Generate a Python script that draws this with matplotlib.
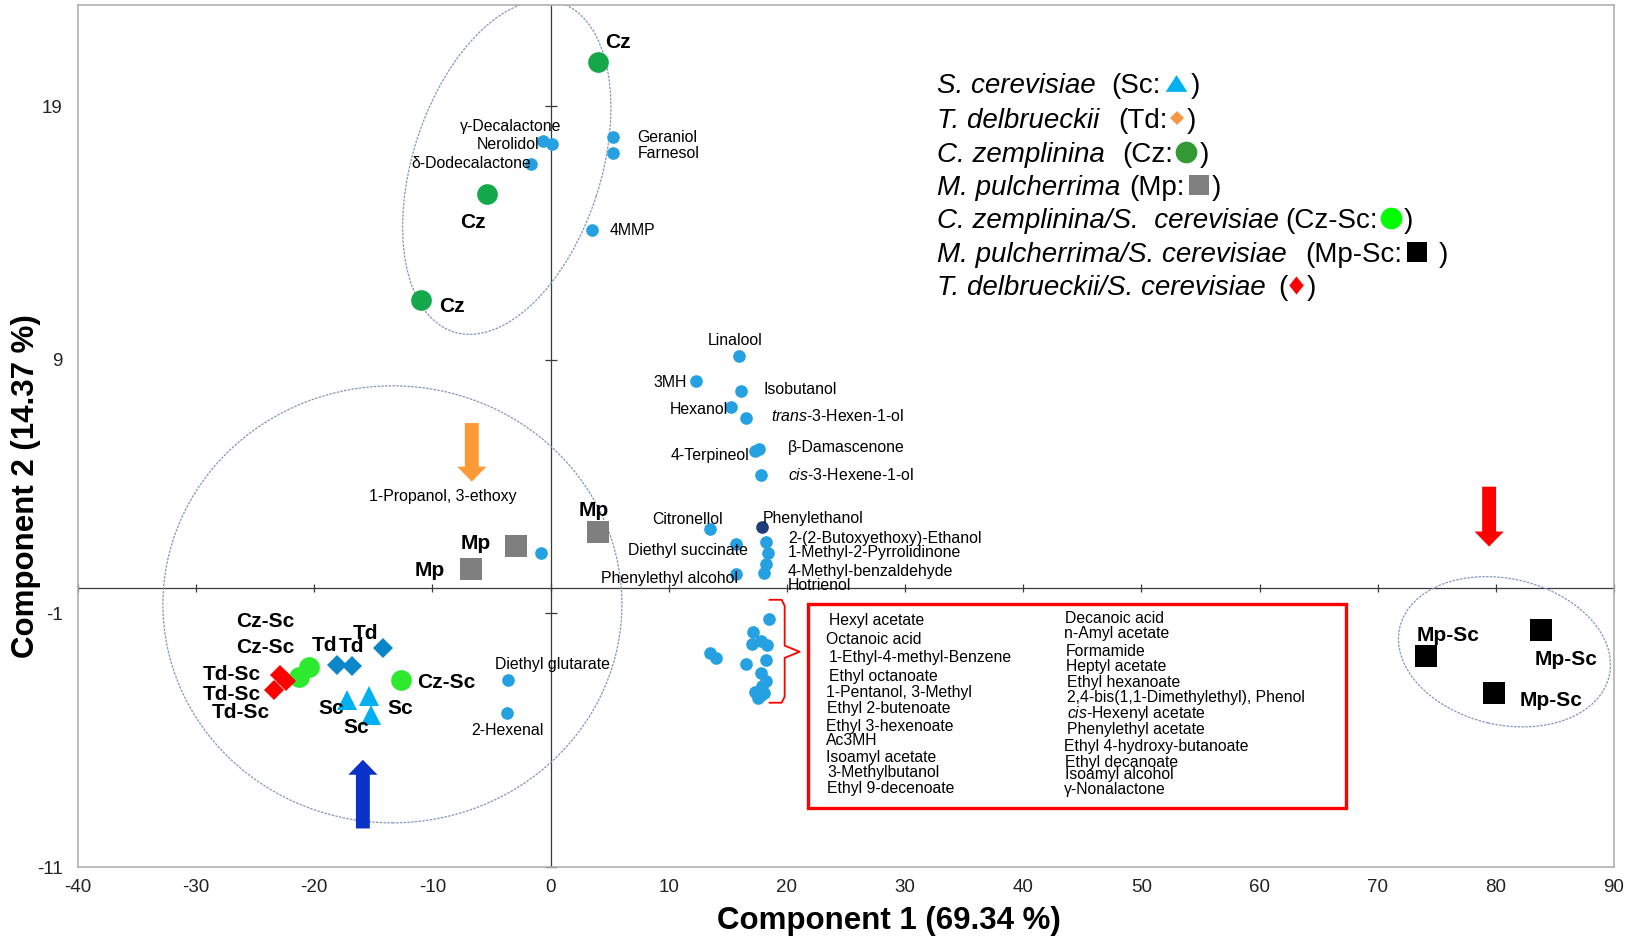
import numpy as np
import matplotlib
matplotlib.use("Agg")
import matplotlib.pyplot as plt
from matplotlib.patches import Ellipse, Rectangle, FancyArrowPatch, ArrowStyle
from matplotlib.lines import Line2D
import matplotlib.transforms as mtransforms

plt.rcParams['font.family'] = ['Liberation Sans', 'DejaVu Sans']
plt.rcParams['axes.unicode_minus'] = False
plt.rcParams['mathtext.fontset'] = 'custom'
plt.rcParams['mathtext.rm'] = 'Liberation Sans'
plt.rcParams['mathtext.it'] = 'Liberation Sans:italic'

# ---------------- data ----------------
x_ticks = [-40, -30, -20, -10, 0, 10, 20, 30, 40, 50, 60, 70, 80, 90]
y_ticks = [-11, -1, 9, 19]
x_title = "Component 1 (69.34 %)"
y_title = "Component 2 (14.37 %)"

# samples
cz_x = [4.02, -5.37, -11.0]
cz_y = [20.75, 15.54, 11.36]
mp_x = [3.97, -2.89, -6.78]
mp_y = [2.23, 1.68, 0.77]
td_x = [-18.12, -16.85, -14.17]
td_y = [-3.05, -3.09, -2.36]
sc_x = [-17.27, -15.36, -15.21]
sc_y = [-4.40, -4.27, -4.99]
czsc_x = [-20.46, -21.28, -12.70]
czsc_y = [-3.11, -3.51, -3.64]
tdsc_x = [-22.91, -22.40, -23.39]
tdsc_y = [-3.42, -3.68, -4.03]
mpsc_x = [83.8, 74.07, 79.82]
mpsc_y = [-1.67, -2.69, -4.15]

# labelled compounds (loadings)
compound_names = ["γ-Decalactone", "Nerolidol", "δ-Dodecalactone", "Geraniol", "Farnesol", "4MMP",
                  "Linalool", "3MH", "Isobutanol", "Hexanol", "$\\it{trans}$-3-Hexen-1-ol",
                  "4-Terpineol", "β-Damascenone", "$\\it{cis}$-3-Hexene-1-ol", "Citronellol",
                  "Diethyl succinate", "2-(2-Butoxyethoxy)-Ethanol", "1-Methyl-2-Pyrrolidinone",
                  "4-Methyl-benzaldehyde", "Hotrienol", "Phenylethyl alcohol",
                  "1-Propanol, 3-ethoxy", "Diethyl glutarate", "2-Hexenal"]
compound_x = [-0.66, 0.13, -1.67, 5.26, 5.29, 3.51,
              15.96, 12.29, 16.10, 15.26, 16.52,
              17.29, 17.65, 17.79, 13.48,
              15.73, 18.21, 18.41,
              18.21, 18.07, 15.68,
              -0.83, -3.57, -3.65]
compound_y = [17.65, 17.52, 16.72, 17.78, 17.16, 14.14,
              9.15, 8.17, 7.79, 7.13, 6.72,
              5.41, 5.48, 4.45, 2.32,
              1.75, 1.80, 1.38,
              0.96, 0.59, 0.57,
              1.38, -3.61, -4.93]
phenylethanol_x = [17.90]
phenylethanol_y = [2.43]

# compounds grouped in the red box
cluster_x = [18.46, 17.13, 17.08, 17.84, 18.32, 13.53, 13.98, 16.51,
             18.21, 17.84, 18.21, 17.93, 17.28, 18.04, 17.56, 17.84]
cluster_y = [-1.21, -1.73, -2.21, -2.10, -2.26, -2.56, -2.76, -2.99,
             -2.83, -3.35, -3.68, -3.88, -4.10, -4.14, -4.33, -4.20]
box_left_names = ["Hexyl acetate", "Octanoic acid", "1-Ethyl-4-methyl-Benzene", "Ethyl octanoate",
                  "1-Pentanol, 3-Methyl", "Ethyl 2-butenoate", "Ethyl 3-hexenoate", "Ac3MH",
                  "Isoamyl acetate", "3-Methylbutanol", "Ethyl 9-decenoate"]
box_right_names = ["Decanoic acid", "n-Amyl acetate", "Formamide", "Heptyl acetate",
                   "Ethyl hexanoate", "2,4-bis(1,1-Dimethylethyl), Phenol",
                   "$\\it{cis}$-Hexenyl acetate", "Phenylethyl acetate",
                   "Ethyl 4-hydroxy-butanoate", "Ethyl decanoate", "Isoamyl alcohol", "γ-Nonalactone"]

# ---------------- layout ----------------
W, H = 1631, 939
fig = plt.figure(figsize=(W / 100, H / 100), dpi=100)
ax = fig.add_axes([78 / W, 1 - 867 / H, (1614 - 78) / W, (867 - 5) / H])
ax.set_xlim(-40, 90)
ax.set_ylim(-11, 23)
for s in ax.spines.values():
    s.set_color('#b0b0b0')
    s.set_linewidth(1.2)

ax.set_xticks(x_ticks)
ax.set_xticklabels([str(v) for v in x_ticks])
ax.set_yticks(y_ticks)
ax.set_yticklabels([str(v) for v in y_ticks])
ax.tick_params(axis='both', length=0, labelsize=13.5, colors='#222222')
ax.tick_params(axis='x', pad=9)
ax.tick_params(axis='y', pad=11)

axis_col = '#3a3a3a'
ax.axhline(0, color=axis_col, lw=0.9, zorder=1)
ax.axvline(0, color=axis_col, lw=0.9, zorder=1)
ax.plot(x_ticks, [0] * len(x_ticks), ls='none', marker='|', ms=6, mew=0.9, color=axis_col, zorder=1, clip_on=False)
ax.plot([0] * len(y_ticks), y_ticks, ls='none', marker='_', ms=8, mew=0.9, color=axis_col, zorder=1, clip_on=False)

fig.text(889 / W, 1 - 921 / H, x_title, fontsize=22.5, fontweight='bold', ha='center', va='center')
fig.text(26 / W, 1 - 486 / H, y_title, fontsize=22.5, fontweight='bold', ha='center', va='center', rotation=90)

# ellipses (center in data units, size in pixels)
ell_col = '#8397bb'
def add_ellipse(cx, cy, w_px, h_px, ang):
    tr = fig.dpi_scale_trans + mtransforms.ScaledTranslation(cx, cy, ax.transData)
    e = Ellipse((0, 0), w_px / 100, h_px / 100, angle=ang, transform=tr, fill=False,
                ec=ell_col, lw=0.9, ls=(0, (2, 1)), zorder=2)
    ax.add_patch(e)

add_ellipse(-3.71, 16.60, 346, 188, 72)
add_ellipse(-13.39, -0.64, 459, 437, 0)
add_ellipse(80.73, -2.51, 215, 146, -13)

# arrows
def add_arrow(x, y0, y1, color):
    st = ArrowStyle.Simple(head_length=10.8, head_width=21, tail_width=10)
    a = FancyArrowPatch((x, y0), (x, y1), arrowstyle=st, mutation_scale=1, color=color,
                        shrinkA=0, shrinkB=0, lw=0, zorder=3)
    ax.add_patch(a)

add_arrow(-6.67, 6.51, 4.20, '#fd9a35')
add_arrow(-15.89, -9.48, -6.77, '#0a32c8')
add_arrow(79.43, 4.00, 1.64, '#ff0000')

# compound points
comp_col = '#25a1e2'
ax.plot(compound_x, compound_y, ls='none', marker='o', ms=9.1, color=comp_col, mew=0, zorder=3)
ax.plot(cluster_x, cluster_y, ls='none', marker='o', ms=9.1, color=comp_col, mew=0, zorder=3)
ax.plot(phenylethanol_x, phenylethanol_y, ls='none', marker='o', ms=9.1, color='#1f3d78', mew=0, zorder=3)

comp_label_pos = [(0.92, 18.19, 'right'), (-0.91, 17.49, 'right'), (-1.62, 16.75, 'right'),
                  (7.35, 17.77, 'left'), (7.35, 17.14, 'left'), (5.01, 14.12, 'left'),
                  (15.63, 9.78, 'center'), (11.5, 8.12, 'right'), (17.98, 7.85, 'left'),
                  (15.02, 7.06, 'right'), (18.69, 6.80, 'left'),
                  (16.85, 5.25, 'right'), (20.09, 5.54, 'left'), (20.09, 4.46, 'left'),
                  (14.59, 2.72, 'right'),
                  (16.66, 1.47, 'right'), (20.09, 1.97, 'left'), (20.09, 1.42, 'left'),
                  (20.09, 0.65, 'left'), (20.09, 0.10, 'left'), (15.86, 0.39, 'right'),
                  (-9.15, 3.61, 'center'), (-4.72, -3.02, 'left'), (-3.66, -5.61, 'center')]
for name, (lx, ly, ha) in zip(compound_names, comp_label_pos):
    ax.text(lx, ly, name, fontsize=11.4, ha=ha, va='center', zorder=5)
ax.text(17.93, 2.73, "Phenylethanol", fontsize=11.4, ha='left', va='center', zorder=5)

# red box with brace
ax.add_patch(Rectangle((21.76, -8.66), 45.6, 8.04, fill=False, ec='#ff0000', lw=2.4, zorder=4))
ax.plot([18.53, 19.55, 19.81, 19.81, 21.08, 19.81, 19.81, 19.55, 18.53],
        [-0.46, -0.46, -0.70, -2.27, -2.51, -2.75, -4.28, -4.52, -4.52],
        color='#ff0000', lw=1.3, zorder=4)
left_pos = [(23.55, -1.28), (23.32, -2.01), (23.55, -2.73), (23.55, -3.48), (23.32, -4.11),
            (23.39, -4.76), (23.32, -5.45), (23.32, -6.00), (23.32, -6.70), (23.39, -7.27), (23.39, -7.92)]
right_pos = [(43.56, -1.18), (43.47, -1.80), (43.63, -2.50), (43.66, -3.11), (43.72, -3.74),
             (43.72, -4.33), (43.72, -4.95), (43.72, -5.56), (43.47, -6.24), (43.56, -6.86),
             (43.56, -7.36), (43.47, -7.95)]
for name, (lx, ly) in zip(box_left_names, left_pos):
    ax.text(lx, ly, name, fontsize=11.3, ha='left', va='center', zorder=5)
for name, (lx, ly) in zip(box_right_names, right_pos):
    ax.text(lx, ly, name, fontsize=11.3, ha='left', va='center', zorder=5)

# sample points
ax.plot(cz_x, cz_y, ls='none', marker='o', ms=14.9, color='#14a84a', mew=0, zorder=4)
ax.plot(mp_x, mp_y, ls='none', marker='s', ms=15.6, color='#7f7f7f', mew=0, zorder=4)
ax.plot(td_x, td_y, ls='none', marker='D', ms=10.2, color='#0b86c8', mew=0, zorder=4)
ax.plot(sc_x, sc_y, ls='none', marker='^', ms=13.7, color='#00b0f0', mew=0, zorder=4)
ax.plot(czsc_x, czsc_y, ls='none', marker='o', ms=14.9, color='#2eea2e', mew=0, zorder=4)
ax.plot(tdsc_x, tdsc_y, ls='none', marker='D', ms=10.2, color='#ff0000', mew=0, zorder=4)
ax.plot(mpsc_x, mpsc_y, ls='none', marker='s', ms=15.6, color='#000000', mew=0, zorder=4)

sample_labels = [("Cz", 5.71, 21.54), ("Cz", -6.56, 14.41), ("Cz", -8.38, 11.12),
                 ("Mp", 3.68, 3.06), ("Mp", -6.33, 1.77), ("Mp", -10.22, 0.68),
                 ("Cz-Sc", -24.18, -1.32), ("Cz-Sc", -24.18, -2.34), ("Cz-Sc", -8.87, -3.72),
                 ("Td-Sc", -27.0, -3.42), ("Td-Sc", -27.0, -4.18), ("Td-Sc", -26.24, -4.90),
                 ("Td", -19.10, -2.27), ("Td", -16.85, -2.30), ("Td", -15.63, -1.80),
                 ("Sc", -18.6, -4.73), ("Sc", -12.76, -4.73), ("Sc", -16.42, -5.48),
                 ("Mp-Sc", 75.93, -1.88), ("Mp-Sc", 85.95, -2.80), ("Mp-Sc", 84.68, -4.43)]
for s, lx, ly in sample_labels:
    ax.text(lx, ly, s, fontsize=15, fontweight='bold', ha='center', va='center', zorder=6)

# legend block (text pieces + marker symbols)
legend_rows = [
    [("S. cerevisiae", 937.3, 'italic'), ("(Sc:", 1111.7, 'normal'), (")", 1190.7, 'normal')],
    [("T. delbrueckii", 937.3, 'italic'), ("(Td:", 1118.3, 'normal'), (")", 1186.7, 'normal')],
    [("C. zemplinina", 937.3, 'italic'), ("(Cz:", 1122.3, 'normal'), (")", 1200.0, 'normal')],
    [("M. pulcherrima", 937.3, 'italic'), ("(Mp:", 1129.0, 'normal'), (")", 1211.7, 'normal')],
    [("C. zemplinina/S.  cerevisiae", 937.3, 'italic'), ("(Cz-Sc:", 1285.0, 'normal'), (")", 1403.3, 'normal')],
    [("M. pulcherrima/S. cerevisiae", 937.3, 'italic'), ("(Mp-Sc:", 1305.7, 'normal'), (")", 1438.3, 'normal')],
    [("T. delbrueckii/S. cerevisiae", 937.3, 'italic'), ("(", 1278.3, 'normal'), (")", 1306.7, 'normal')],
]
tri = [(-1, -0.77), (1, -0.77), (0, 0.77)]
dia = [(0, 1), (0.8, 0), (0, -1), (-0.8, 0)]
legend_marks = [(1175.8, tri, '#00b0f0', 15.6), (1176.7, 'D', '#f79646', 7.6),
                (1186.3, 'o', '#339933', 15.6), (1198.7, 's', '#808080', 14.4),
                (1391.5, 'o', '#00ff00', 15.6), (1417.3, 's', '#000000', 14.4),
                (1295.8, dia, '#ff0000', 13.0)]
row_centers = [83.3, 118.3, 151.7, 185.0, 218.3, 251.7, 285.0]
for yc, parts, (mx, mk, mc, ms) in zip(row_centers, legend_rows, legend_marks):
    for txt, tx, style in parts:
        fig.text(tx / W, 1 - (yc + 10) / H, txt, fontsize=20, style=style, ha='left', va='baseline')
    fig.add_artist(Line2D([mx / W], [1 - yc / H], transform=fig.transFigure, marker=mk,
                          ms=ms, color=mc, mew=0, ls='none'))

fig.savefig('out.png', dpi=100)
